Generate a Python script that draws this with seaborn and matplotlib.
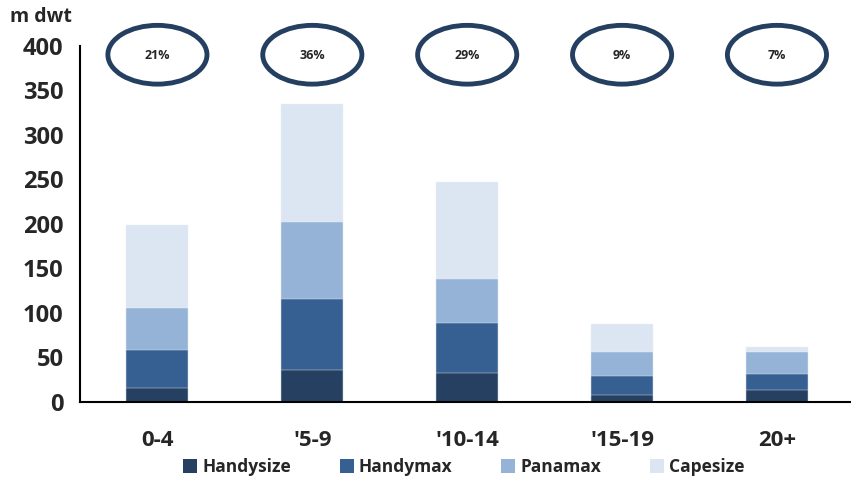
import seaborn as sns
import matplotlib.pyplot as plt
import pandas as pd
import numpy as np
from matplotlib.patches import Ellipse, Patch

# data (m dwt)
ages = ["0-4", "'5-9", "'10-14", "'15-19", "20+"]
handysize = [16, 36, 33, 8, 13]
handymax = [42, 80, 56, 21, 18]
panamax = [48, 86, 49, 27, 25]
capesize = [93, 133, 109, 32, 6]
shares = ["21%", "36%", "29%", "9%", "7%"]

series = ["Handysize", "Handymax", "Panamax", "Capesize"]
colors = ["#264061", "#376092", "#95B3D7", "#DCE6F2"]

df = pd.DataFrame({"age": ages, "Handysize": handysize, "Handymax": handymax,
                   "Panamax": panamax, "Capesize": capesize})
# cumulative totals so the tallest layer is drawn first and the others on top
cum = df[series].cumsum(axis=1)

sns.set_style("white")
plt.rcParams["font.family"] = ["Open Sans", "DejaVu Sans"]

fig = plt.figure(figsize=(8.51, 4.8), dpi=100)
ax = fig.add_axes([0.094, 0.1625, 0.91, 0.742])

for name, col in reversed(list(zip(series, colors))):
    sns.barplot(x=df["age"], y=cum[name], color=col, width=0.4, ax=ax,
                saturation=1, edgecolor="#e8eef6", linewidth=0.3)

ax.set_ylim(0, 400)
ax.set_xlim(-0.5, 4.5)
ax.set_yticks(range(0, 401, 50))
ax.set_xlabel("")
ax.set_ylabel("")

# category ticks sit between the bars
ax.set_xticks(np.arange(-0.5, 5, 1), minor=False)
ax.set_xticklabels([])
ax.set_xticks(range(5), minor=True)
ax.set_xticklabels(ages, minor=True, fontsize=16, fontweight="bold")
ax.tick_params(axis="x", which="minor", length=0, pad=20)
ax.tick_params(axis="x", which="major", direction="out", length=6, width=1.5, color="black")
ax.tick_params(axis="y", direction="out", length=6, width=1.5, color="black", labelsize=17, pad=6)
for lab in ax.get_yticklabels():
    lab.set_fontweight("bold")

sns.despine(ax=ax, top=True, right=True)
ax.spines["left"].set_linewidth(1.5)
ax.spines["bottom"].set_linewidth(1.5)
ax.spines["left"].set_color("black")
ax.spines["bottom"].set_color("black")

# share ellipses above each bar
for i, s in enumerate(shares):
    e = Ellipse((i, 390), 0.64, 66, fill=False, edgecolor="#243F60", linewidth=3.5, clip_on=False)
    ax.add_patch(e)
    ax.text(i, 389, s, ha="center", va="center", fontsize=9, fontweight="bold", clip_on=False)

fig.text(0.012, 0.965, "m dwt", fontsize=14, fontweight="bold", ha="left", va="center")

handles = [Patch(facecolor=c, edgecolor="none") for c in colors]
fig.legend(handles, series, loc="center", bbox_to_anchor=(0.545, 0.027), ncol=4, frameon=False,
           prop={"weight": "bold", "size": 12.5}, handlelength=0.8, handleheight=0.8,
           handletextpad=0.3, columnspacing=2.8)

fig.savefig("out.png", dpi=100)
